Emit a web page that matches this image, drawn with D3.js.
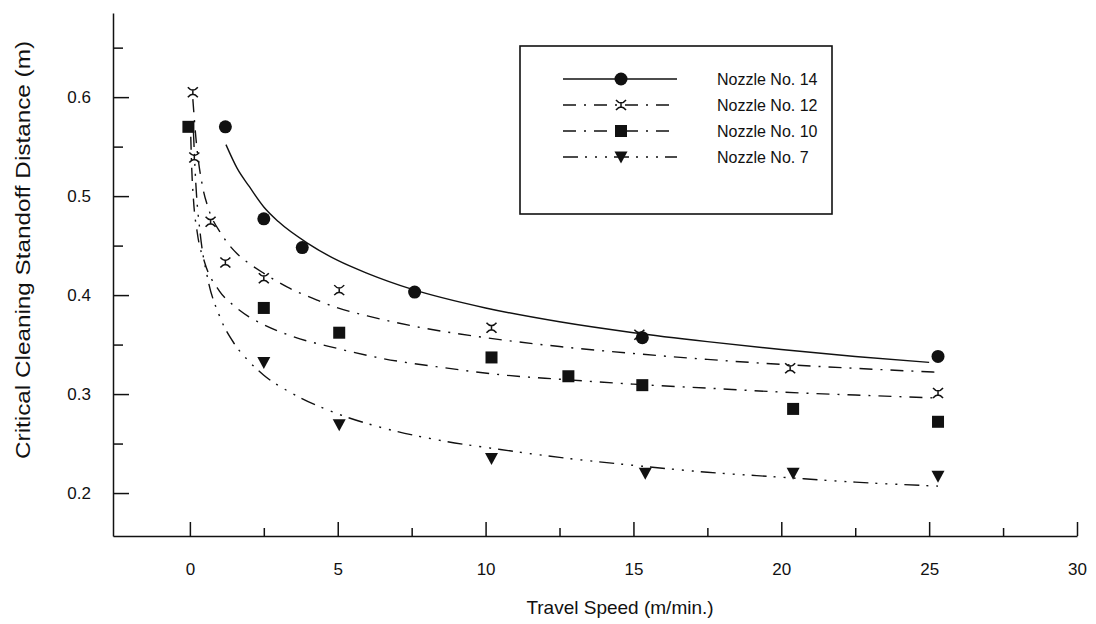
<!DOCTYPE html>
<html>
<head>
<meta charset="utf-8">
<script src="https://cdn.jsdelivr.net/npm/d3@7"></script>
<style>
body { margin: 0; background: #fff; }
text { font-family: "Liberation Sans", Arial, sans-serif; fill: #111; }
</style>
</head>
<body>
<div id="chart"></div>
<script>
// measured points (travel speed m/min, standoff distance m)
var speed14 = [1.2, 2.5, 3.8, 7.6, 15.3, 25.3];
var dist14  = [0.570, 0.477, 0.448, 0.403, 0.357, 0.338];
var speed12 = [0.1, 0.15, 0.7, 1.2, 2.5, 5.05, 10.2, 15.2, 20.3, 25.3];
var dist12  = [0.605, 0.539, 0.474, 0.433, 0.417, 0.405, 0.367, 0.360, 0.326, 0.301];
var speed10 = [-0.05, 2.5, 5.05, 10.2, 12.8, 15.3, 20.4, 25.3];
var dist10  = [0.570, 0.387, 0.362, 0.337, 0.318, 0.309, 0.285, 0.272];
var speed7  = [2.5, 5.05, 10.2, 15.4, 20.4, 25.3];
var dist7   = [0.332, 0.269, 0.235, 0.220, 0.220, 0.217];

// fitted curves
var fitX14 = [1.22, 1.6, 2.0, 2.5, 3.0, 4.0, 5.0, 6.0, 7.5, 10, 12.5, 15, 17.5, 20, 22.5, 25];
var fitY14 = [0.552, 0.528, 0.510, 0.489, 0.474, 0.452, 0.435, 0.422, 0.406, 0.387, 0.373, 0.362, 0.353, 0.345, 0.338, 0.332];
var fitX12 = [0.1, 0.2, 0.44, 0.61, 1.08, 1.59, 2.0, 2.5, 3.3, 4.3, 5.0, 6.0, 7.5, 10, 12.5, 15, 17.5, 20, 22.5, 25.3];
var fitY12 = [0.598, 0.560, 0.508, 0.489, 0.461, 0.442, 0.432, 0.422, 0.408, 0.395, 0.387, 0.379, 0.369, 0.357, 0.348, 0.341, 0.335, 0.330, 0.326, 0.322];
var fitX10 = [0.03, 0.06, 0.12, 0.25, 0.5, 1.0, 1.5, 2.0, 2.5, 3.5, 5.0, 6.5, 8.5, 10.7, 12.5, 15, 17.5, 20, 22.5, 25.3];
var fitY10 = [0.560, 0.530, 0.497, 0.463, 0.433, 0.404, 0.389, 0.378, 0.370, 0.358, 0.346, 0.336, 0.327, 0.319, 0.315, 0.310, 0.306, 0.302, 0.299, 0.296];
var fitX7  = [0.12, 0.2, 0.35, 0.6, 1.0, 1.5, 2.0, 2.5, 3.5, 5.0, 6.5, 8.5, 10.5, 12.5, 15, 17.5, 20, 22.5, 25.3];
var fitY7  = [0.565, 0.513, 0.462, 0.417, 0.379, 0.351, 0.333, 0.319, 0.300, 0.280, 0.266, 0.253, 0.244, 0.236, 0.228, 0.221, 0.216, 0.211, 0.207];

var xMajor = [0, 5, 10, 15, 20, 25, 30];
var xMinor = [2.5, 7.5, 12.5, 17.5, 22.5, 27.5];
var yMajor = [0.2, 0.3, 0.4, 0.5, 0.6];
var yMinor = [0.25, 0.35, 0.45, 0.55, 0.65];
var names = ["Nozzle No. 14", "Nozzle No. 12", "Nozzle No. 10", "Nozzle No. 7"];

var svg = d3.select("#chart")
    .append("svg")
    .attr("width", 1096)
    .attr("height", 624);

var x = d3.scaleLinear().domain([-2.6, 30]).range([113, 1077]);
var y = d3.scaleLinear().domain([0.1566, 0.685]).range([536, 13]);

// axes, ticks point inward
svg.append("g")
    .attr("transform", "translate(0,536)")
    .call(d3.axisBottom(x).tickValues(xMinor).tickSize(-8).tickSizeOuter(0).tickFormat(""))
    .call(function(g) { g.select(".domain").remove(); });
svg.append("g")
    .attr("transform", "translate(0,536)")
    .call(d3.axisBottom(x).tickValues(xMajor).tickSize(-14).tickSizeOuter(0).tickPadding(27))
    .call(function(g) { g.selectAll("text").style("font-size", "17px"); });

svg.append("g")
    .attr("transform", "translate(113,0)")
    .call(d3.axisLeft(y).tickValues(yMinor).tickSize(-10).tickSizeOuter(0).tickFormat(""))
    .call(function(g) { g.select(".domain").remove(); });
svg.append("g")
    .attr("transform", "translate(113,0)")
    .call(d3.axisLeft(y).tickValues(yMajor).tickSize(-16).tickSizeOuter(0).tickPadding(22).tickFormat(d3.format(".1f")))
    .call(function(g) { g.selectAll("text").style("font-size", "17px"); });

svg.selectAll(".domain, .tick line").attr("stroke", "#111").attr("stroke-width", 1.5);

// axis titles
svg.append("text")
    .attr("x", 620).attr("y", 614)
    .attr("text-anchor", "middle")
    .style("font-size", "19px")
    .text("Travel Speed (m/min.)");
svg.append("text")
    .attr("transform", "translate(30,250) rotate(-90)")
    .attr("text-anchor", "middle")
    .attr("textLength", 418)
    .attr("lengthAdjust", "spacingAndGlyphs")
    .style("font-size", "21px")
    .text("Critical Cleaning Standoff Distance (m)");

// curves
var dashes = [null, "13,8,2,8", "13,8,2,8", "15,7,2,8,2,8,2,7"];
var fits = [[fitX14, fitY14], [fitX12, fitY12], [fitX10, fitY10], [fitX7, fitY7]];
var line = d3.line()
    .x(function(d) { return x(d[0]); })
    .y(function(d) { return y(d[1]); })
    .curve(d3.curveMonotoneX);

fits.forEach(function(f, i) {
    svg.append("path")
        .attr("d", line(d3.zip(f[0], f[1])))
        .attr("fill", "none")
        .attr("stroke", "#111")
        .attr("stroke-width", 1.4)
        .attr("stroke-dasharray", dashes[i]);
});

// markers
var crossPath = "M-5,-5Q0,1 5,-5M-5,5Q0,-1 5,5M0,-3L0,3";
function marker(g, kind) {
    if (kind == 0) g.append("circle").attr("r", 6.5).attr("fill", "#111");
    if (kind == 1) g.append("path").attr("d", crossPath).attr("fill", "none").attr("stroke", "#111").attr("stroke-width", 1.5);
    if (kind == 2) g.append("rect").attr("x", -6).attr("y", -6).attr("width", 12).attr("height", 12).attr("fill", "#111");
    if (kind == 3) g.append("path").attr("d", "M-6.5,-5.5L6.5,-5.5L0,6.5Z").attr("fill", "#111");
}

var pts = [[speed14, dist14], [speed12, dist12], [speed10, dist10], [speed7, dist7]];
pts.forEach(function(p, i) {
    d3.zip(p[0], p[1]).forEach(function(d) {
        var g = svg.append("g").attr("transform", "translate(" + x(d[0]) + "," + y(d[1]) + ")");
        marker(g, i);
    });
});

// legend
svg.append("rect")
    .attr("x", 520).attr("y", 46)
    .attr("width", 312).attr("height", 168)
    .attr("fill", "none")
    .attr("stroke", "#111")
    .attr("stroke-width", 1.6);

var rowY = [79, 105, 131, 157];
names.forEach(function(n, i) {
    svg.append("line")
        .attr("x1", 563).attr("x2", 677)
        .attr("y1", rowY[i]).attr("y2", rowY[i])
        .attr("stroke", "#111")
        .attr("stroke-width", 1.4)
        .attr("stroke-dasharray", dashes[i]);
    var g = svg.append("g").attr("transform", "translate(621," + rowY[i] + ")");
    marker(g, i);
    svg.append("text")
        .attr("x", 717).attr("y", rowY[i] + 6)
        .style("font-size", "16px")
        .text(n);
});
</script>
</body>
</html>
